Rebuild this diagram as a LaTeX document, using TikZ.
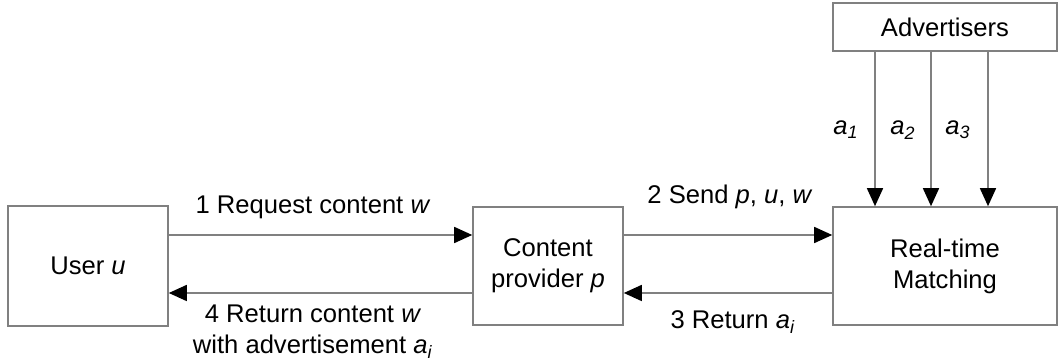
\documentclass[tikz,border=0pt]{standalone}
\usepackage{fontspec}
\setmainfont{Liberation Sans}
\usetikzlibrary{arrows.meta}
\definecolor{edgegray}{RGB}{128,128,128}
\newcommand{\sub}[1]{\textsubscript{\textit{#1}}}
\begin{document}
\begin{tikzpicture}[x=0.5pt,y=-0.5pt,
  box/.style={draw=edgegray,line width=0.8pt,inner sep=0pt,align=center,font=\fontsize{12.8}{15.5}\selectfont},
  lbl/.style={inner sep=0pt,align=center,font=\fontsize{12.8}{15.5}\selectfont},
  arr/.style={draw=edgegray,line width=0.8pt,-{Triangle[length=9pt,width=8pt,black]}}]
\path[use as bounding box] (0,0) rectangle (1060,362);
\node[box,minimum width=80pt,minimum height=60pt] (user) at (88,266) {User \textit{u}};
\node[box,minimum width=75pt,minimum height=59pt] (cp) at (548,266) {Content\\provider \textit{p}};
\node[box,minimum width=112pt,minimum height=59pt] (rtm) at (945,266) {Real-time\\Matching};
\node[box,minimum width=112pt,minimum height=24pt] (adv) at (945,27) {Advertisers};
\draw[arr] ([yshift=15.5pt]user.east) -- ([yshift=15.5pt]cp.west);
\draw[arr] ([yshift=-13.5pt]cp.west) -- ([yshift=-13.5pt]user.east);
\draw[arr] ([yshift=15.5pt]cp.east) -- ([yshift=15.5pt]rtm.west);
\draw[arr] ([yshift=-13.5pt]rtm.west) -- ([yshift=-13.5pt]cp.east);
\draw[arr] ([xshift=-35pt]adv.south) -- ([xshift=-35pt]rtm.north);
\draw[arr] ([xshift=-7pt]adv.south) -- ([xshift=-7pt]rtm.north);
\draw[arr] ([xshift=21.5pt]adv.south) -- ([xshift=21.5pt]rtm.north);
\node[lbl] (l1) at (313,207) {1 Request content \textit{w}};
\node[lbl] (l4) at (313,332) {4 Return content \textit{w}\\with advertisement \textit{a}\sub{i}};
\node[lbl] (l2) at (730,197) {2 Send \textit{p}, \textit{u}, \textit{w}};
\node[lbl] (l3) at (733,322) {3 Return \textit{a}\sub{i}};
\node[lbl] (a1) at (846,130) {\textit{a}\sub{1}};
\node[lbl] (a2) at (903,130) {\textit{a}\sub{2}};
\node[lbl] (a3) at (958,130) {\textit{a}\sub{3}};
\end{tikzpicture}
\end{document}
